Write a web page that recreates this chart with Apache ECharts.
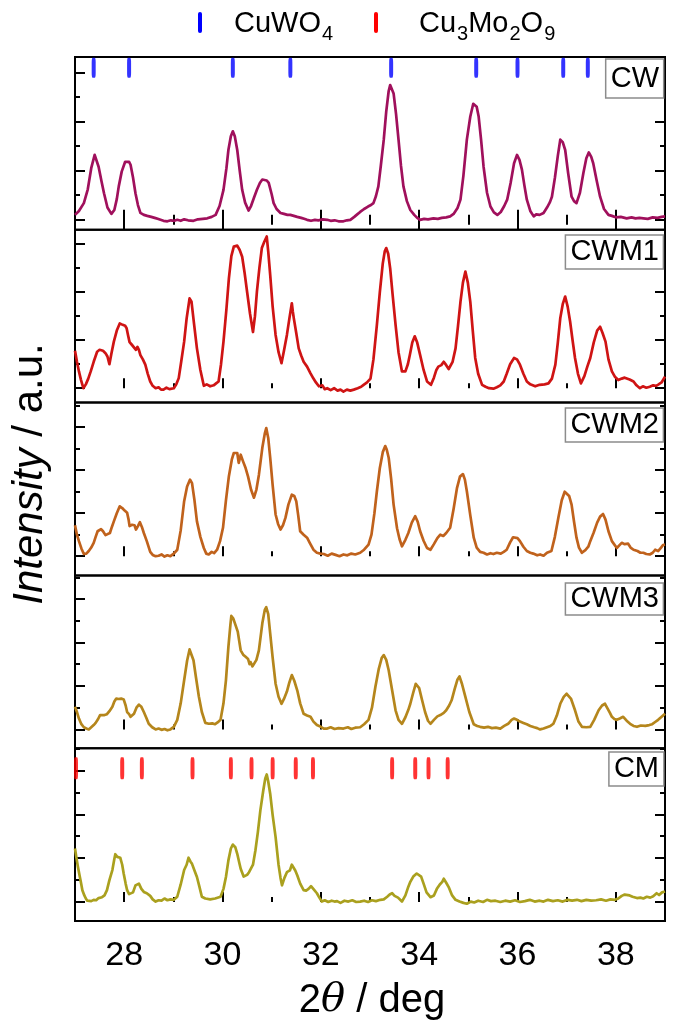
<!DOCTYPE html>
<html><head><meta charset="utf-8">
<script src="https://cdn.jsdelivr.net/npm/echarts@6/dist/echarts.min.js"></script>
<style>html,body{margin:0;padding:0;background:#fff}#c{width:675px;height:1029px}</style>
</head><body><div id="c"></div>
<script>
// ---------- data ----------
const xTickLabels = [28, 30, 32, 34, 36, 38];
const xMinorTicks = [29, 31, 33, 35, 37];
const yMajorTicks = [0, 1, 2, 3];
const yMinorTicks = [0.5, 1.5, 2.5, 3.5];
const panelNames = ['CW', 'CWM1', 'CWM2', 'CWM3', 'CM'];
const legendNames = ['CuWO4', 'Cu3Mo2O9'];

const cw = [[27.00,0.10],[27.08,0.18],[27.18,0.34],[27.26,0.62],[27.33,1.05],[27.40,1.32],[27.44,1.28],[27.48,1.08],[27.54,0.78],[27.59,0.54],[27.66,0.25],[27.74,0.12],[27.80,0.20],[27.85,0.42],[27.89,0.68],[27.95,0.98],[28.02,1.18],[28.06,1.21],[28.10,1.18],[28.13,1.12],[28.18,0.86],[28.23,0.54],[28.28,0.30],[28.33,0.14],[28.40,0.10],[28.47,0.08],[28.55,0.06],[28.62,0.04],[28.68,0.02],[28.74,0.00],[28.80,-0.02],[28.88,-0.03],[28.95,-0.01],[29.02,-0.02],[29.08,0.00],[29.15,-0.02],[29.22,0.01],[29.30,-0.01],[29.41,-0.02],[29.50,0.01],[29.60,0.02],[29.69,0.03],[29.78,0.06],[29.86,0.10],[29.94,0.28],[30.02,0.61],[30.08,1.05],[30.12,1.42],[30.17,1.70],[30.21,1.80],[30.25,1.70],[30.30,1.42],[30.35,1.00],[30.40,0.61],[30.46,0.35],[30.53,0.19],[30.58,0.28],[30.64,0.45],[30.70,0.61],[30.76,0.75],[30.81,0.82],[30.85,0.83],[30.90,0.80],[30.94,0.75],[31.00,0.52],[31.04,0.34],[31.10,0.22],[31.18,0.14],[31.25,0.12],[31.32,0.10],[31.38,0.10],[31.45,0.08],[31.52,0.06],[31.60,0.04],[31.66,0.02],[31.72,0.00],[31.80,-0.02],[31.88,0.00],[31.95,-0.01],[32.04,0.01],[32.13,0.00],[32.20,-0.02],[32.28,-0.01],[32.36,-0.03],[32.46,-0.03],[32.53,-0.01],[32.60,0.00],[32.68,0.06],[32.74,0.11],[32.80,0.16],[32.88,0.22],[32.96,0.27],[33.02,0.30],[33.07,0.34],[33.12,0.48],[33.17,0.68],[33.22,1.10],[33.28,1.63],[33.33,2.20],[33.38,2.62],[33.41,2.74],[33.44,2.70],[33.48,2.57],[33.53,2.15],[33.58,1.63],[33.63,1.10],[33.68,0.68],[33.75,0.38],[33.82,0.20],[33.90,0.10],[33.96,0.04],[34.02,0.00],[34.10,0.02],[34.18,0.01],[34.29,0.03],[34.38,0.02],[34.46,0.04],[34.55,0.05],[34.63,0.07],[34.70,0.12],[34.78,0.24],[34.84,0.41],[34.90,0.90],[34.97,1.63],[35.04,2.10],[35.10,2.36],[35.13,2.40],[35.17,2.30],[35.21,2.10],[35.26,1.62],[35.31,1.08],[35.38,0.55],[35.45,0.27],[35.52,0.15],[35.59,0.10],[35.66,0.16],[35.73,0.28],[35.79,0.41],[35.86,0.75],[35.93,1.15],[35.99,1.32],[36.04,1.22],[36.09,1.02],[36.14,0.70],[36.19,0.41],[36.26,0.18],[36.33,0.07],[36.38,0.11],[36.45,0.10],[36.53,0.14],[36.60,0.25],[36.66,0.36],[36.70,0.47],[36.76,0.85],[36.82,1.30],[36.87,1.63],[36.92,1.58],[36.97,1.42],[37.03,0.95],[37.10,0.47],[37.15,0.38],[37.20,0.34],[37.27,0.55],[37.34,0.95],[37.40,1.25],[37.45,1.37],[37.50,1.28],[37.54,1.15],[37.61,0.80],[37.68,0.47],[37.76,0.22],[37.85,0.10],[37.92,0.08],[38.00,0.05],[38.10,0.06],[38.22,0.03],[38.32,0.05],[38.40,0.03],[38.48,0.04],[38.56,0.03],[38.65,0.02],[38.75,0.05],[38.85,0.04],[38.93,0.06],[39.00,0.07]];

const cwm1 = [[27.00,0.78],[27.04,0.55],[27.08,0.35],[27.12,0.18],[27.17,0.00],[27.22,0.08],[27.27,0.20],[27.32,0.35],[27.38,0.55],[27.45,0.76],[27.50,0.80],[27.53,0.84],[27.57,0.78],[27.62,0.73],[27.66,0.66],[27.70,0.50],[27.74,0.72],[27.79,0.97],[27.85,1.20],[27.91,1.35],[27.97,1.32],[28.02,1.30],[28.05,1.25],[28.08,1.10],[28.11,0.96],[28.16,0.90],[28.20,0.87],[28.24,0.80],[28.27,0.86],[28.30,0.80],[28.33,0.69],[28.38,0.60],[28.43,0.49],[28.48,0.30],[28.53,0.14],[28.58,0.05],[28.64,0.00],[28.70,0.02],[28.75,-0.03],[28.80,-0.03],[28.86,0.01],[28.92,-0.02],[29.01,0.00],[29.06,0.08],[29.11,0.21],[29.16,0.55],[29.22,0.97],[29.27,1.45],[29.33,1.87],[29.37,1.80],[29.42,1.35],[29.48,0.83],[29.55,0.38],[29.62,0.05],[29.68,0.08],[29.75,0.04],[29.82,0.06],[29.87,0.10],[29.92,0.14],[29.97,0.50],[30.02,0.97],[30.08,1.65],[30.13,2.29],[30.18,2.75],[30.23,2.95],[30.27,2.92],[30.30,2.97],[30.35,2.88],[30.40,2.74],[30.45,2.40],[30.50,2.01],[30.56,1.55],[30.62,1.17],[30.66,1.50],[30.70,2.01],[30.75,2.50],[30.80,2.92],[30.85,3.05],[30.90,3.16],[30.93,2.85],[30.97,2.36],[31.02,1.70],[31.08,1.11],[31.14,0.75],[31.20,0.52],[31.25,0.78],[31.31,1.11],[31.36,1.45],[31.41,1.77],[31.43,1.60],[31.45,1.46],[31.50,1.15],[31.55,0.83],[31.60,0.68],[31.65,0.55],[31.72,0.45],[31.79,0.31],[31.85,0.20],[31.90,0.12],[31.96,0.04],[32.03,0.06],[32.08,-0.02],[32.13,0.00],[32.20,-0.04],[32.27,0.00],[32.34,-0.05],[32.40,-0.03],[32.46,-0.07],[32.53,-0.03],[32.60,-0.05],[32.67,-0.03],[32.75,0.00],[32.82,0.03],[32.87,0.07],[32.94,0.12],[33.01,0.20],[33.07,0.60],[33.14,1.32],[33.20,2.00],[33.26,2.60],[33.30,2.85],[33.33,2.92],[33.37,2.80],[33.41,2.50],[33.46,1.95],[33.52,1.32],[33.58,0.75],[33.65,0.35],[33.72,0.35],[33.77,0.50],[33.81,0.69],[33.86,0.95],[33.91,1.08],[33.96,0.95],[34.02,0.69],[34.09,0.38],[34.16,0.14],[34.24,0.07],[34.30,0.22],[34.35,0.38],[34.39,0.45],[34.45,0.48],[34.50,0.55],[34.55,0.48],[34.60,0.40],[34.63,0.38],[34.68,0.55],[34.74,0.83],[34.79,1.30],[34.84,1.80],[34.89,2.20],[34.94,2.43],[34.99,2.20],[35.04,1.80],[35.09,1.20],[35.14,0.63],[35.20,0.30],[35.28,0.07],[35.35,0.03],[35.42,0.00],[35.51,-0.01],[35.58,0.02],[35.65,0.06],[35.72,0.14],[35.78,0.30],[35.85,0.50],[35.93,0.63],[35.99,0.60],[36.05,0.49],[36.12,0.30],[36.19,0.14],[36.26,0.08],[36.36,0.04],[36.45,0.07],[36.55,0.08],[36.63,0.10],[36.70,0.20],[36.77,0.49],[36.82,0.95],[36.87,1.46],[36.92,1.75],[36.97,1.91],[37.02,1.70],[37.07,1.39],[37.12,1.00],[37.17,0.63],[37.23,0.30],[37.29,0.10],[37.36,0.25],[37.42,0.45],[37.48,0.63],[37.55,0.95],[37.62,1.20],[37.68,1.28],[37.73,1.15],[37.79,0.97],[37.85,0.60],[37.92,0.35],[37.98,0.24],[38.05,0.17],[38.12,0.20],[38.18,0.22],[38.22,0.22],[38.28,0.18],[38.36,0.14],[38.42,0.06],[38.49,0.00],[38.55,0.04],[38.62,0.01],[38.69,0.03],[38.76,0.06],[38.82,0.05],[38.87,0.08],[38.93,0.12],[39.00,0.24]];

const cwm2 = [[27.00,0.72],[27.04,0.50],[27.08,0.35],[27.13,0.18],[27.18,0.05],[27.23,0.06],[27.28,0.12],[27.33,0.20],[27.38,0.31],[27.42,0.45],[27.46,0.58],[27.50,0.62],[27.53,0.63],[27.57,0.58],[27.62,0.49],[27.66,0.52],[27.71,0.54],[27.75,0.68],[27.79,0.81],[27.85,1.00],[27.91,1.16],[27.96,1.12],[28.01,1.06],[28.06,1.01],[28.09,0.85],[28.11,0.70],[28.16,0.73],[28.21,0.72],[28.24,0.62],[28.28,0.70],[28.32,0.79],[28.36,0.68],[28.40,0.54],[28.46,0.35],[28.53,0.10],[28.58,0.03],[28.64,0.00],[28.70,0.01],[28.76,0.04],[28.82,-0.01],[28.88,0.02],[28.94,0.00],[29.01,0.06],[29.08,0.15],[29.15,0.60],[29.22,1.28],[29.28,1.62],[29.34,1.78],[29.38,1.70],[29.43,1.30],[29.48,0.81],[29.55,0.45],[29.62,0.19],[29.67,0.06],[29.72,0.04],[29.78,0.10],[29.83,0.07],[29.89,0.15],[29.95,0.35],[30.01,0.66],[30.07,1.30],[30.13,1.86],[30.19,2.25],[30.23,2.40],[30.26,2.44],[30.30,2.40],[30.33,2.17],[30.37,2.36],[30.42,2.20],[30.47,2.05],[30.52,1.85],[30.58,1.55],[30.64,1.36],[30.69,1.55],[30.74,1.89],[30.81,2.52],[30.86,2.85],[30.89,2.98],[30.93,2.75],[30.97,2.29],[31.02,1.65],[31.08,0.97],[31.13,0.75],[31.18,0.62],[31.23,0.72],[31.28,0.89],[31.34,1.20],[31.41,1.43],[31.46,1.40],[31.50,1.28],[31.54,0.95],[31.58,0.58],[31.65,0.50],[31.72,0.43],[31.78,0.30],[31.85,0.15],[31.92,0.08],[31.99,0.06],[32.06,0.05],[32.14,0.01],[32.22,0.06],[32.30,0.03],[32.38,0.00],[32.46,0.04],[32.54,0.02],[32.62,0.06],[32.70,0.04],[32.80,0.08],[32.88,0.15],[32.97,0.27],[33.03,0.50],[33.09,1.00],[33.14,1.51],[33.20,2.05],[33.26,2.42],[33.31,2.56],[33.34,2.48],[33.38,2.29],[33.43,1.80],[33.48,1.20],[33.55,0.65],[33.60,0.40],[33.65,0.23],[33.72,0.38],[33.78,0.54],[33.85,0.78],[33.92,0.93],[33.97,0.80],[34.02,0.58],[34.09,0.36],[34.16,0.19],[34.23,0.15],[34.30,0.28],[34.37,0.42],[34.43,0.50],[34.49,0.47],[34.55,0.54],[34.59,0.52],[34.63,0.66],[34.70,1.10],[34.77,1.59],[34.83,1.85],[34.89,1.91],[34.93,1.78],[34.97,1.51],[35.04,0.95],[35.11,0.43],[35.17,0.20],[35.24,0.10],[35.31,0.08],[35.38,0.04],[35.45,0.07],[35.51,0.05],[35.58,0.08],[35.66,0.06],[35.72,0.10],[35.78,0.15],[35.85,0.32],[35.91,0.44],[35.95,0.47],[36.00,0.42],[36.05,0.35],[36.12,0.22],[36.19,0.12],[36.26,0.08],[36.32,0.06],[36.40,0.02],[36.46,0.04],[36.53,0.01],[36.60,0.08],[36.69,0.12],[36.76,0.45],[36.83,0.89],[36.90,1.30],[36.96,1.50],[37.00,1.51],[37.05,1.40],[37.10,1.20],[37.15,0.80],[37.20,0.43],[37.25,0.20],[37.31,0.08],[37.38,0.14],[37.44,0.22],[37.48,0.35],[37.55,0.55],[37.62,0.78],[37.68,0.92],[37.74,0.98],[37.79,0.85],[37.85,0.58],[37.92,0.35],[38.02,0.19],[38.07,0.25],[38.12,0.31],[38.18,0.28],[38.25,0.29],[38.30,0.20],[38.36,0.15],[38.44,0.12],[38.50,0.08],[38.56,0.08],[38.62,0.05],[38.69,0.04],[38.75,0.08],[38.80,0.15],[38.86,0.12],[38.92,0.20],[38.96,0.26],[39.00,0.27]];

const cwm3 = [[27.00,0.52],[27.04,0.40],[27.08,0.25],[27.13,0.12],[27.18,0.05],[27.23,0.02],[27.28,0.00],[27.33,0.05],[27.38,0.10],[27.42,0.15],[27.47,0.24],[27.51,0.33],[27.55,0.36],[27.60,0.33],[27.65,0.35],[27.70,0.42],[27.76,0.52],[27.80,0.64],[27.84,0.71],[27.89,0.70],[27.94,0.71],[27.99,0.69],[28.03,0.55],[28.06,0.40],[28.10,0.35],[28.13,0.29],[28.17,0.31],[28.20,0.36],[28.25,0.50],[28.30,0.57],[28.35,0.52],[28.40,0.40],[28.45,0.27],[28.50,0.13],[28.57,0.05],[28.64,0.00],[28.70,0.02],[28.76,-0.01],[28.82,0.01],[28.88,-0.02],[28.94,0.00],[29.01,0.06],[29.08,0.22],[29.15,0.60],[29.22,1.13],[29.28,1.58],[29.33,1.84],[29.37,1.80],[29.41,1.59],[29.46,1.20],[29.52,0.75],[29.58,0.40],[29.65,0.15],[29.72,0.13],[29.79,0.14],[29.85,0.12],[29.90,0.16],[29.96,0.22],[30.02,0.60],[30.07,1.13],[30.12,1.90],[30.16,2.40],[30.18,2.61],[30.22,2.55],[30.26,2.52],[30.31,2.25],[30.37,1.82],[30.42,1.72],[30.47,1.67],[30.52,1.62],[30.55,1.50],[30.57,1.55],[30.61,1.45],[30.64,1.42],[30.69,1.60],[30.74,1.82],[30.81,2.44],[30.86,2.75],[30.89,2.81],[30.93,2.65],[30.97,2.21],[31.02,1.65],[31.08,1.05],[31.14,0.75],[31.20,0.59],[31.25,0.70],[31.31,0.87],[31.36,1.08],[31.41,1.25],[31.46,1.12],[31.52,0.90],[31.58,0.60],[31.65,0.36],[31.72,0.32],[31.79,0.29],[31.85,0.18],[31.92,0.10],[32.00,0.06],[32.06,0.02],[32.13,0.02],[32.20,0.05],[32.28,0.01],[32.36,0.03],[32.46,0.02],[32.55,0.05],[32.62,0.01],[32.70,0.04],[32.80,0.05],[32.88,0.12],[32.97,0.22],[33.04,0.50],[33.11,0.98],[33.18,1.40],[33.24,1.65],[33.28,1.71],[33.33,1.60],[33.38,1.36],[33.45,0.90],[33.52,0.44],[33.58,0.22],[33.65,0.13],[33.72,0.28],[33.78,0.45],[33.82,0.59],[33.88,0.85],[33.93,1.05],[33.96,1.09],[34.00,0.95],[34.06,0.67],[34.12,0.40],[34.18,0.20],[34.23,0.13],[34.30,0.22],[34.37,0.30],[34.43,0.33],[34.50,0.38],[34.55,0.44],[34.61,0.55],[34.66,0.67],[34.72,0.92],[34.78,1.15],[34.82,1.22],[34.87,1.05],[34.94,0.75],[35.02,0.40],[35.11,0.12],[35.18,0.08],[35.24,0.06],[35.32,0.04],[35.40,0.06],[35.48,0.03],[35.56,0.04],[35.65,0.02],[35.73,0.08],[35.81,0.13],[35.88,0.22],[35.93,0.25],[35.99,0.22],[36.05,0.18],[36.12,0.15],[36.19,0.12],[36.26,0.08],[36.34,0.05],[36.40,0.03],[36.46,0.00],[36.53,0.02],[36.60,0.05],[36.67,0.08],[36.73,0.13],[36.80,0.32],[36.87,0.59],[36.94,0.75],[37.00,0.82],[37.04,0.84],[37.09,0.70],[37.17,0.44],[37.24,0.18],[37.31,0.06],[37.40,0.05],[37.48,0.06],[37.56,0.22],[37.65,0.44],[37.72,0.55],[37.78,0.59],[37.82,0.55],[37.88,0.38],[37.92,0.29],[37.97,0.24],[38.02,0.22],[38.08,0.25],[38.15,0.29],[38.22,0.20],[38.29,0.13],[38.36,0.08],[38.43,0.06],[38.51,0.09],[38.60,0.08],[38.68,0.10],[38.74,0.12],[38.80,0.17],[38.86,0.22],[38.92,0.28],[39.00,0.36]];

const cm = [[27.00,1.22],[27.03,1.00],[27.06,0.80],[27.09,0.62],[27.12,0.45],[27.15,0.27],[27.19,0.15],[27.22,0.08],[27.25,0.03],[27.29,0.07],[27.33,0.02],[27.38,0.05],[27.43,0.04],[27.48,0.09],[27.52,0.07],[27.55,0.11],[27.60,0.15],[27.65,0.27],[27.70,0.50],[27.76,0.73],[27.80,0.98],[27.82,1.09],[27.86,1.03],[27.92,1.01],[27.96,0.85],[27.99,0.65],[28.03,0.42],[28.06,0.27],[28.10,0.18],[28.13,0.14],[28.18,0.22],[28.23,0.38],[28.27,0.35],[28.30,0.42],[28.35,0.30],[28.40,0.23],[28.46,0.20],[28.53,0.14],[28.58,0.06],[28.64,0.01],[28.70,0.04],[28.76,0.03],[28.82,0.08],[28.88,0.04],[28.94,0.06],[29.01,0.05],[29.08,0.12],[29.15,0.40],[29.22,0.73],[29.27,0.85],[29.31,1.01],[29.35,0.92],[29.38,0.87],[29.43,0.72],[29.48,0.57],[29.53,0.35],[29.58,0.12],[29.65,0.08],[29.75,0.06],[29.85,0.08],[29.96,0.12],[30.02,0.30],[30.07,0.57],[30.12,0.95],[30.17,1.22],[30.21,1.31],[30.26,1.25],[30.30,1.10],[30.34,0.90],[30.37,0.76],[30.43,0.58],[30.50,0.62],[30.54,0.68],[30.57,0.72],[30.62,0.85],[30.67,1.18],[30.72,1.60],[30.77,2.09],[30.83,2.55],[30.87,2.82],[30.90,2.91],[30.93,2.75],[30.97,2.47],[31.02,1.98],[31.08,1.48],[31.14,0.85],[31.18,0.55],[31.21,0.38],[31.26,0.55],[31.31,0.68],[31.37,0.72],[31.41,0.85],[31.44,0.86],[31.48,0.72],[31.52,0.61],[31.58,0.42],[31.65,0.27],[31.70,0.26],[31.75,0.30],[31.80,0.36],[31.86,0.28],[31.92,0.20],[31.97,0.10],[32.02,0.01],[32.08,0.04],[32.15,0.00],[32.22,0.03],[32.28,0.01],[32.33,0.02],[32.40,-0.02],[32.48,0.03],[32.56,0.01],[32.64,0.04],[32.72,0.00],[32.80,0.01],[32.88,0.03],[32.96,0.00],[33.04,0.04],[33.12,0.02],[33.21,0.05],[33.28,0.06],[33.35,0.12],[33.40,0.17],[33.45,0.20],[33.50,0.14],[33.57,0.10],[33.65,0.01],[33.72,0.15],[33.78,0.35],[33.82,0.46],[33.88,0.58],[33.95,0.65],[33.99,0.68],[34.04,0.58],[34.09,0.42],[34.15,0.22],[34.23,0.11],[34.30,0.15],[34.36,0.30],[34.42,0.40],[34.47,0.46],[34.50,0.53],[34.55,0.44],[34.60,0.34],[34.67,0.15],[34.74,0.05],[34.82,0.01],[34.90,-0.02],[34.97,-0.04],[35.05,0.01],[35.12,-0.01],[35.20,0.03],[35.30,0.00],[35.38,0.05],[35.46,0.02],[35.55,0.03],[35.65,0.00],[35.75,0.03],[35.85,0.01],[35.95,0.04],[36.05,0.00],[36.15,0.02],[36.25,0.05],[36.35,0.01],[36.45,0.03],[36.53,0.01],[36.62,0.05],[36.72,0.02],[36.82,0.04],[36.92,0.01],[37.02,0.05],[37.11,0.03],[37.21,0.05],[37.30,0.02],[37.40,0.05],[37.50,0.03],[37.60,0.04],[37.70,0.06],[37.80,0.03],[37.89,0.06],[37.98,0.05],[38.05,0.08],[38.12,0.14],[38.18,0.17],[38.22,0.20],[38.28,0.15],[38.34,0.12],[38.43,0.09],[38.50,0.10],[38.56,0.08],[38.63,0.12],[38.70,0.10],[38.76,0.13],[38.83,0.20],[38.88,0.16],[38.94,0.22],[39.00,0.24]];

const cuwo4Ticks = [27.38, 28.10, 30.21, 31.38, 33.43, 35.16, 36.00, 36.93, 37.43];
const cu3mo2o9Ticks = [27.02, 27.96, 28.36, 29.39, 30.17, 30.59, 31.02, 31.49, 31.84, 33.45, 33.92, 34.19, 34.58];

// ---------- layout ----------
const FONT = 'Liberation Sans, Arial, sans-serif';
const seriesData = [cw, cwm1, cwm2, cwm3, cm];
const colors = ['#a0105c', '#cf1414', '#c0621c', '#b5861c', '#aaa01e'];
const plotLeft = 75, plotRight = 10, plotTop = 57, panelH = 172.8;
const yRanges = [[-0.203, 3.311], [-0.30, 3.30], [-0.447, 3.572], [-0.432, 3.543], [-0.433, 3.508]];
const boxTop = [59, 235, 408, 583, 752];
const boxPad = [[5,5,4,5],[2,5,2,5],[2,5,2,5],[1,5,1,5],[2,5,2,5]];

const grids = [], xAxes = [], yAxes = [], series = [];
const tickStyle = { color: '#000', width: 2 };

for (let i = 0; i < 5; i++) {
  const top = plotTop + i * panelH;
  const [ymin, ymax] = yRanges[i];
  for (let g = 0; g < 2; g++) {
    const gi = grids.length;
    grids.push({ left: plotLeft, right: plotRight, top: top, height: panelH, containLabel: false,
      show: g === 0, borderColor: '#000', borderWidth: 2, backgroundColor: 'transparent' });
    const xVals = g === 0 ? xTickLabels : xMinorTicks;
    const xLen = g === 0 ? 10 : 5;
    const positions = (i === 0) ? ['bottom', 'top'] : ['bottom'];
    positions.forEach(pos => {
      const idx = xAxes.length;
      xAxes.push({
        gridIndex: gi, type: 'value', min: 27, max: 39, interval: 1, position: pos,
        axisLine: { show: false }, splitLine: { show: false },
        axisTick: { show: true, inside: true, length: xLen, customValues: xVals, lineStyle: tickStyle },
        axisLabel: { show: (i === 4 && g === 0 && pos === 'bottom'), customValues: xTickLabels,
          fontSize: 34, color: '#000', fontFamily: FONT, margin: 18 }
      });
      if (g === 0 && pos === 'bottom') grids[gi]._x = idx;
    });
    const yVals = (g === 0 ? yMajorTicks : yMinorTicks).filter(v => v > ymin && v < ymax);
    const yLen = g === 0 ? 10 : 5;
    ['left', 'right'].forEach(pos => {
      const idx = yAxes.length;
      yAxes.push({
        gridIndex: gi, type: 'value', min: ymin, max: ymax, position: pos,
        axisLine: { show: false }, splitLine: { show: false }, axisLabel: { show: false },
        axisTick: { show: true, inside: true, length: yLen, customValues: yVals, lineStyle: tickStyle }
      });
      if (g === 0 && pos === 'left') grids[gi]._y = idx;
    });
  }
}

const mainGrid = i => grids[i * 2];
for (let i = 0; i < 5; i++) {
  series.push({
    type: 'line', name: panelNames[i], data: seriesData[i],
    xAxisIndex: mainGrid(i)._x, yAxisIndex: mainGrid(i)._y,
    showSymbol: false, symbol: 'none', clip: true, animation: false,
    lineStyle: { color: colors[i], width: 2.7, join: 'round' }
  });
}
// reference position markers
series.push({
  type: 'scatter', name: legendNames[0], xAxisIndex: mainGrid(0)._x, yAxisIndex: mainGrid(0)._y,
  data: cuwo4Ticks.map(v => [v, 3.09]), symbol: 'roundRect', symbolSize: [4, 20],
  itemStyle: { color: '#0000ff' }, animation: false, silent: true
});
series.push({
  type: 'scatter', name: legendNames[1], xAxisIndex: mainGrid(4)._x, yAxisIndex: mainGrid(4)._y,
  data: cu3mo2o9Ticks.map(v => [v, 3.05]), symbol: 'roundRect', symbolSize: [4, 22],
  itemStyle: { color: '#ff0000' }, animation: false, silent: true
});
grids.forEach(g => { delete g._x; delete g._y; });

const titles = panelNames.map((n, i) => ({
  text: n, right: 11, top: boxTop[i], padding: boxPad[i],
  borderColor: '#8c8c8c', borderWidth: 1.5, backgroundColor: '#fff',
  textStyle: { fontSize: 29, fontWeight: 'normal', color: '#000', fontFamily: FONT, lineHeight: 30 }
}));

const richBase = {
  a: { fontSize: 29, fontFamily: FONT, color: '#000', lineHeight: 30, verticalAlign: 'top' },
  s: { fontSize: 20, fontFamily: FONT, color: '#000', lineHeight: 20, padding: [15, 0, 0, 1], verticalAlign: 'top' }
};

const graphic = [
  { type: 'rect', shape: { x: 198, y: 12, width: 4, height: 21, r: 2 }, style: { fill: '#0000ff' } },
  { type: 'text', x: 234, y: 9, style: { text: '{a|CuWO}{s|4}', rich: richBase } },
  { type: 'rect', shape: { x: 374, y: 12, width: 4, height: 21, r: 2 }, style: { fill: '#ff0000' } },
  { type: 'text', x: 419, y: 9, style: { text: '{a|Cu}{s|3}{a|Mo}{s|2}{a|O}{s|9}', rich: richBase } },
  { type: 'text', x: 30, y: 474, rotation: Math.PI / 2,
    style: { text: '{i|Intensity}{n| / a.u.}', align: 'center', verticalAlign: 'middle',
      rich: { i: { fontSize: 42, fontStyle: 'italic', fontFamily: FONT, color: '#000' },
              n: { fontSize: 42, fontFamily: FONT, color: '#000' } } } },
  { type: 'text', x: 372, y: 1001,
    style: { text: '{n|2}{t|θ}{n| / deg}', align: 'center', verticalAlign: 'middle',
      rich: { n: { fontSize: 40, fontFamily: FONT, color: '#000' },
              t: { fontSize: 40, fontStyle: 'italic', fontFamily: 'DejaVu Serif, serif', color: '#000' } } } }
];

const chart = echarts.init(document.getElementById('c'), null, { renderer: 'canvas' });
chart.setOption({
  backgroundColor: '#fff', animation: false,
  title: titles, grid: grids, xAxis: xAxes, yAxis: yAxes, series: series, graphic: graphic
});
</script></body></html>
